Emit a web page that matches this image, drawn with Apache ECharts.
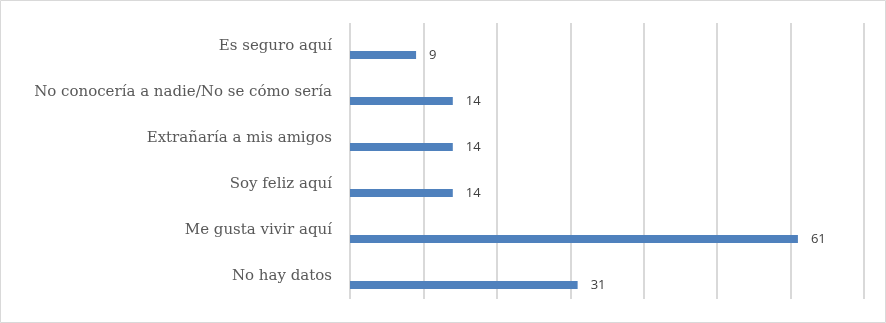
<!DOCTYPE html>
<html><head><meta charset="utf-8">
<script src="https://cdn.jsdelivr.net/npm/echarts@6/dist/echarts.min.js"></script>
<style>html,body{margin:0;padding:0;background:#fff}#c{width:886px;height:323px}</style>
</head><body><div id="c"></div>
<script>
const categories = ["Es seguro aquí","No conocería a nadie/No se cómo sería","Extrañaría a mis amigos","Soy feliz aquí","Me gusta vivir aquí","No hay datos"];
const values = [9,14,14,14,61,31];
const xMin = 0, xMax = 70, xStep = 10;

const chart = echarts.init(document.getElementById('c'));
chart.setOption({
  animation:false,
  graphic:[{type:'rect',shape:{x:0.5,y:0.5,width:885,height:322},style:{fill:'none',stroke:'#d9d9d9',lineWidth:1}}],
  grid:{left:350,right:22,top:23,bottom:24,containLabel:false},
  xAxis:{type:'value',min:xMin,max:xMax,interval:xStep,
    axisLabel:{show:false},axisLine:{show:false},axisTick:{show:false},
    splitLine:{show:true,lineStyle:{color:'#d9d9d9',width:2}}},
  yAxis:{type:'category',data:categories,inverse:true,
    axisLine:{show:false},axisTick:{show:false},
    axisLabel:{margin:18,color:'#595959',fontFamily:'DejaVu Serif',fontSize:15}},
  series:[
    {type:'bar',name:'pad',data:categories.map(()=>'-'),barWidth:8,barGap:'125%',silent:true},
    {type:'bar',name:'valor',data:values,barWidth:8,barGap:'125%',
     itemStyle:{color:'#4f81bd'},
     label:{show:true,position:'right',distance:13,color:'#404040',fontFamily:'Open Sans',fontSize:13}}
  ]
});
</script></body></html>
